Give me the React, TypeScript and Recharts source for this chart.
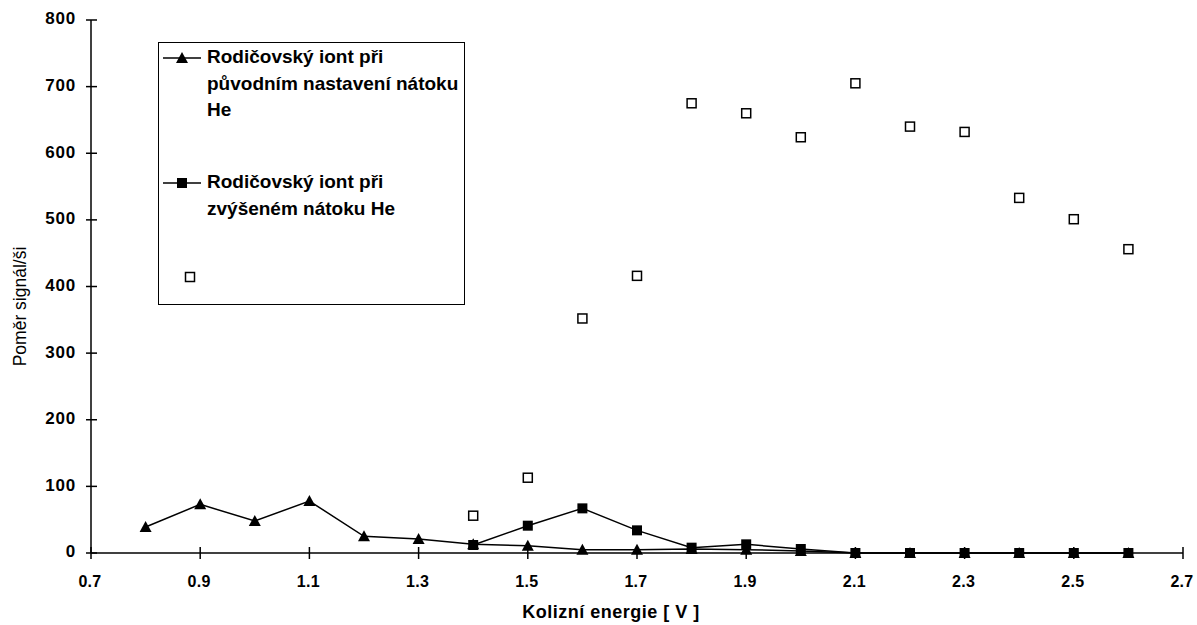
import React from "react";
import { ComposedChart, Line, XAxis, YAxis, Legend } from "recharts";

const ENERGY = [0.8, 0.9, 1.0, 1.1, 1.2, 1.3, 1.4, 1.5, 1.6, 1.7, 1.8, 1.9, 2.0, 2.1, 2.2, 2.3, 2.4, 2.5, 2.6];
const PUVODNI = [39, 73, 48, 78, 25, 21, 13, 11, 5, 5, 6, 5, 3, 0, 0, 0, 0, 0, 0];
const ZVYSENY = [null, null, null, null, null, null, 12, 41, 67, 34, 8, 13, 6, 0, 0, 0, 0, 0, 0];
const TRETI = [null, null, null, null, null, null, 56, 113, 352, 416, 675, 660, 624, 705, 640, 632, 533, 501, 456];

const X_TICKS = [0.7, 0.9, 1.1, 1.3, 1.5, 1.7, 1.9, 2.1, 2.3, 2.5, 2.7];
const Y_TICKS = [0, 100, 200, 300, 400, 500, 600, 700, 800];

const NAME_PUVODNI = "Rodičovský iont při původním nastavení nátoku He";
const NAME_ZVYSENY = "Rodičovský iont při zvýšeném nátoku He";

const rows = ENERGY.map((x, i) => ({ x, tri: PUVODNI[i], sq: ZVYSENY[i], open: TRETI[i] }));

const FONT = "'Liberation Sans', Arial, sans-serif";
const INK = "#000";

function TriDot({ cx, cy }: any) {
  if (cx == null || cy == null) return null;
  return <path d={`M${cx},${cy - 6} L${cx + 6},${cy + 5} L${cx - 6},${cy + 5} Z`} fill={INK} />;
}

function SqDot({ cx, cy }: any) {
  if (cx == null || cy == null) return null;
  return <rect x={cx - 5} y={cy - 5} width={10} height={10} fill={INK} />;
}

function OpenDot({ cx, cy }: any) {
  if (cx == null || cy == null) return null;
  return <rect x={cx - 4.5} y={cy - 4.5} width={9} height={9} fill="#fff" stroke={INK} strokeWidth={1.5} />;
}

function XTick({ x, y, payload }: any) {
  return (
    <g>
      <line x1={x} x2={x} y1={y - 6} y2={y + 6} stroke={INK} strokeWidth={1.5} />
      <text x={x - 1} y={y + 30} textAnchor="middle" dominantBaseline="middle" fontFamily={FONT} fontWeight="bold" fontSize={16} letterSpacing={0.3} fill={INK}>
        {payload.value.toFixed(1)}
      </text>
    </g>
  );
}

function YTick({ x, y, payload }: any) {
  return (
    <g>
      <line x1={x - 5} x2={x + 6} y1={y} y2={y} stroke={INK} strokeWidth={1.5} />
      <text x={x - 15} y={y} textAnchor="end" dominantBaseline="middle" fontFamily={FONT} fontWeight="bold" fontSize={17} letterSpacing={0.8} fill={INK}>
        {payload.value}
      </text>
    </g>
  );
}

function YTitle({ viewBox }: any) {
  const cx = viewBox.x + 21;
  const cy = viewBox.y + viewBox.height / 2 + 20;
  return (
    <text x={cx} y={cy} transform={`rotate(-90 ${cx} ${cy})`} textAnchor="middle" dominantBaseline="middle" fontFamily={FONT} fontSize={17.5} fill={INK}>
      Poměr signál/ši
    </text>
  );
}

function XTitle({ viewBox }: any) {
  return (
    <text x={viewBox.x + viewBox.width / 2 - 26} y={viewBox.y + 60} textAnchor="middle" dominantBaseline="middle" fontFamily={FONT} fontWeight="bold" fontSize={18} letterSpacing={0.5} fill={INK}>
      Kolizní energie [ V ]
    </text>
  );
}

function LegendIcon({ kind }: { kind: string }) {
  return (
    <svg width={40} height={14} style={{ position: "absolute", left: 4, top: 8 }}>
      {kind !== "open" && <line x1={0} x2={38} y1={7} y2={7} stroke={INK} strokeWidth={1.5} />}
      {kind === "tri" && <TriDot cx={19} cy={7} />}
      {kind === "sq" && <SqDot cx={19} cy={7} />}
      {kind === "open" && <OpenDot cx={27} cy={7} />}
    </svg>
  );
}

function LegendBox() {
  const text: React.CSSProperties = {
    position: "absolute",
    left: 48,
    width: 258,
    fontFamily: FONT,
    fontWeight: "bold",
    fontSize: 19,
    lineHeight: "26.5px",
    color: INK,
    textAlign: "left",
  };
  return (
    <div style={{ position: "relative", width: 305, height: 261, border: "1.5px solid #000", background: "#fff" }}>
      <div style={{ position: "absolute", left: 0, top: 0 }}><LegendIcon kind="tri" /></div>
      <div style={{ ...text, top: 1 }}>{NAME_PUVODNI}</div>
      <div style={{ position: "absolute", left: 0, top: 125 }}><LegendIcon kind="sq" /></div>
      <div style={{ ...text, top: 126 }}>{NAME_ZVYSENY}</div>
      <div style={{ position: "absolute", left: 0, top: 219 }}><LegendIcon kind="open" /></div>
    </div>
  );
}

export default function App() {
  return (
    <div style={{ position: "absolute", left: 0, top: 0, width: 1197, height: 625, background: "#fff" }}>
      <ComposedChart width={1197} height={625} data={rows} margin={{ top: 20, right: 14, bottom: 0, left: 0 }}>
        <XAxis
          dataKey="x"
          type="number"
          domain={[0.7, 2.7]}
          ticks={X_TICKS}
          interval={0}
          height={72}
          stroke={INK}
          strokeWidth={1.5}
          tickLine={false}
          tickSize={0}
          tickMargin={0}
          tick={<XTick />}
          label={<XTitle />}
        />
        <YAxis
          type="number"
          domain={[0, 800]}
          ticks={Y_TICKS}
          interval={0}
          width={91}
          stroke={INK}
          strokeWidth={1.5}
          tickLine={false}
          tickSize={0}
          tickMargin={0}
          tick={<YTick />}
          label={<YTitle />}
        />
        <Legend
          layout="horizontal"
          align="center"
          verticalAlign="middle"
          content={() => <LegendBox />}
          wrapperStyle={{ left: 158, top: 42, width: 308, height: 264 }}
        />
        <Line dataKey="tri" name={NAME_PUVODNI} stroke={INK} strokeWidth={1.5} dot={<TriDot />} isAnimationActive={false} />
        <Line dataKey="sq" name={NAME_ZVYSENY} stroke={INK} strokeWidth={1.5} dot={<SqDot />} isAnimationActive={false} />
        <Line dataKey="open" stroke="none" dot={<OpenDot />} activeDot={false} legendType="none" isAnimationActive={false} />
      </ComposedChart>
    </div>
  );
}
